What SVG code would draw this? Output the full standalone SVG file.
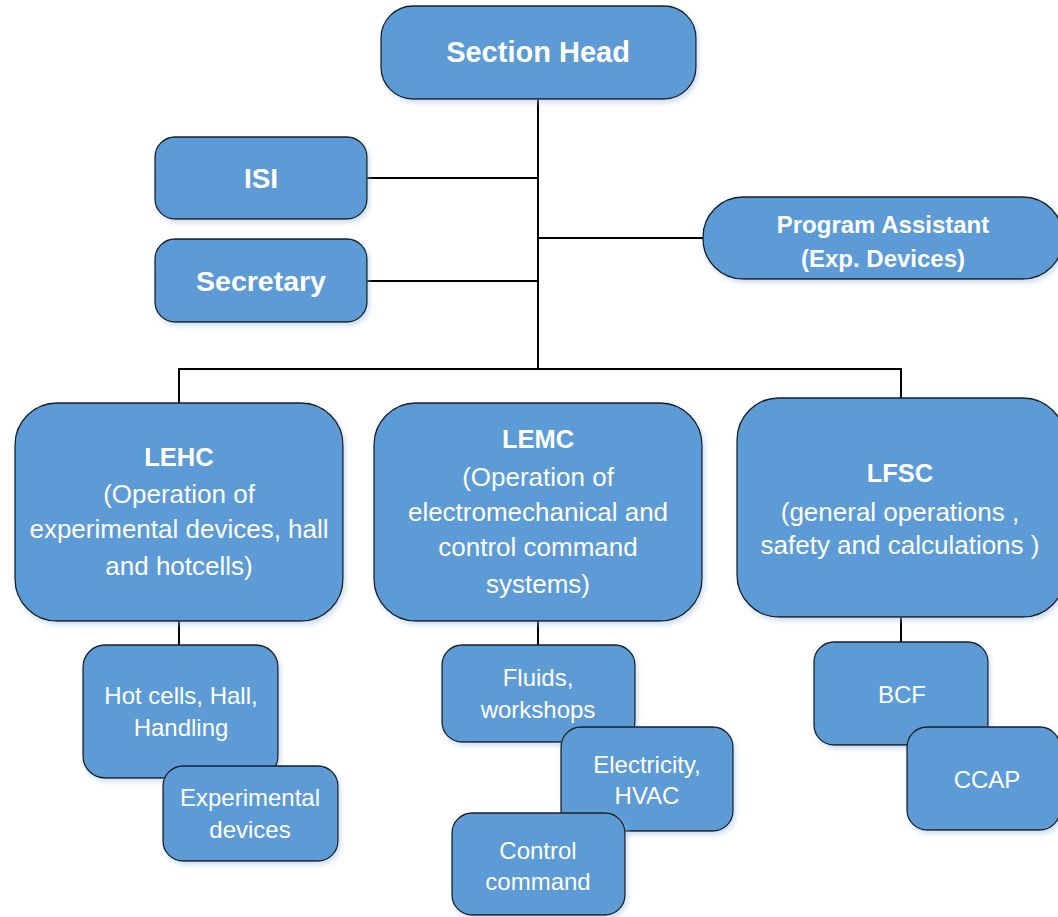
<svg xmlns="http://www.w3.org/2000/svg" width="1058" height="917" viewBox="0 0 1058 917">
<style>
.box{fill:#5B9BD5;stroke:#1a1a1a;stroke-width:1.3;filter:url(#sh)}
.t{font-family:"Liberation Sans",Arial,sans-serif;fill:#ffffff;text-anchor:middle}
.b{font-weight:bold}
.s{font-size:24px}
.line{stroke:#000;stroke-width:2;fill:none}
</style>
<defs>
<filter id="sh" x="-10%" y="-10%" width="125%" height="130%">
<feDropShadow dx="2" dy="3" stdDeviation="2.5" flood-color="#9bbbe0" flood-opacity="0.5"/>
</filter>
</defs>
<rect width="1058" height="917" fill="#ffffff"/>
<g id="connectors">
<path class="line" d="M538,99 V370"/>
<path class="line" d="M367,178 H538"/>
<path class="line" d="M367,281 H538"/>
<path class="line" d="M538,238 H703"/>
<path class="line" d="M179,403 V369 H901 V398"/>
<path class="line" d="M179,621 V645"/>
<path class="line" d="M538,621 V645"/>
<path class="line" d="M901,617 V642"/>
</g>
<g id="section-head">
<rect class="box" x="381" y="6" width="315" height="93" rx="32"/>
<text class="t b" x="538" y="62" font-size="29">Section Head</text>
</g>
<g id="isi">
<rect class="box" x="155" y="137" width="212" height="82" rx="20"/>
<text class="t b" x="261" y="188" font-size="28">ISI</text>
</g>
<g id="secretary">
<rect class="box" x="155" y="239" width="212" height="83" rx="20"/>
<text class="t b" x="261" y="291" font-size="28.5">Secretary</text>
</g>
<g id="program-assistant">
<rect class="box" x="703" y="197" width="360" height="82" rx="40"/>
<text class="t b" x="883" y="233" font-size="24">Program Assistant</text>
<text class="t b" x="883" y="267" font-size="24">(Exp. Devices)</text>
</g>
<g id="lehc">
<rect class="box" x="15" y="403" width="328" height="218" rx="42"/>
<text class="t b" x="179" y="466" font-size="25.5">LEHC</text>
<text class="t" x="179" y="503" font-size="26">(Operation of</text>
<text class="t" x="179" y="538" font-size="26">experimental devices, hall</text>
<text class="t" x="179" y="575" font-size="26">and hotcells)</text>
</g>
<g id="lemc">
<rect class="box" x="374" y="403" width="328" height="218" rx="42"/>
<text class="t b" x="538" y="448" font-size="25.5">LEMC</text>
<text class="t" x="538" y="486" font-size="26">(Operation of</text>
<text class="t" x="538" y="521" font-size="26">electromechanical and</text>
<text class="t" x="538" y="556" font-size="26">control command</text>
<text class="t" x="538" y="593" font-size="26">systems)</text>
</g>
<g id="lfsc">
<rect class="box" x="737" y="398" width="328" height="219" rx="42"/>
<text class="t b" x="900" y="482" font-size="25.5">LFSC</text>
<text class="t" x="900" y="521" font-size="26">(general operations ,</text>
<text class="t" x="900" y="554" font-size="26">safety and calculations )</text>
</g>
<g id="hot-cells">
<rect class="box" x="83" y="645" width="195" height="133" rx="22"/>
<text class="t s" x="181" y="704">Hot cells, Hall,</text>
<text class="t s" x="181" y="736">Handling</text>
</g>
<g id="experimental-devices">
<rect class="box" x="163" y="766" width="175" height="95" rx="20"/>
<text class="t s" x="250" y="806">Experimental</text>
<text class="t s" x="250" y="838">devices</text>
</g>
<g id="fluids">
<rect class="box" x="442" y="645" width="193" height="97" rx="20"/>
<text class="t s" x="538" y="686">Fluids,</text>
<text class="t s" x="538" y="718">workshops</text>
</g>
<g id="electricity">
<rect class="box" x="561" y="727" width="172" height="104" rx="20"/>
<text class="t s" x="647" y="773">Electricity,</text>
<text class="t s" x="647" y="804">HVAC</text>
</g>
<g id="control-command">
<rect class="box" x="452" y="813" width="173" height="102" rx="20"/>
<text class="t s" x="538" y="859">Control</text>
<text class="t s" x="538" y="890">command</text>
</g>
<g id="bcf">
<rect class="box" x="814" y="642" width="174" height="103" rx="20"/>
<text class="t s" x="902" y="703">BCF</text>
</g>
<g id="ccap">
<rect class="box" x="907" y="727" width="153" height="103" rx="20"/>
<text class="t s" x="987" y="788">CCAP</text>
</g>
</svg>
